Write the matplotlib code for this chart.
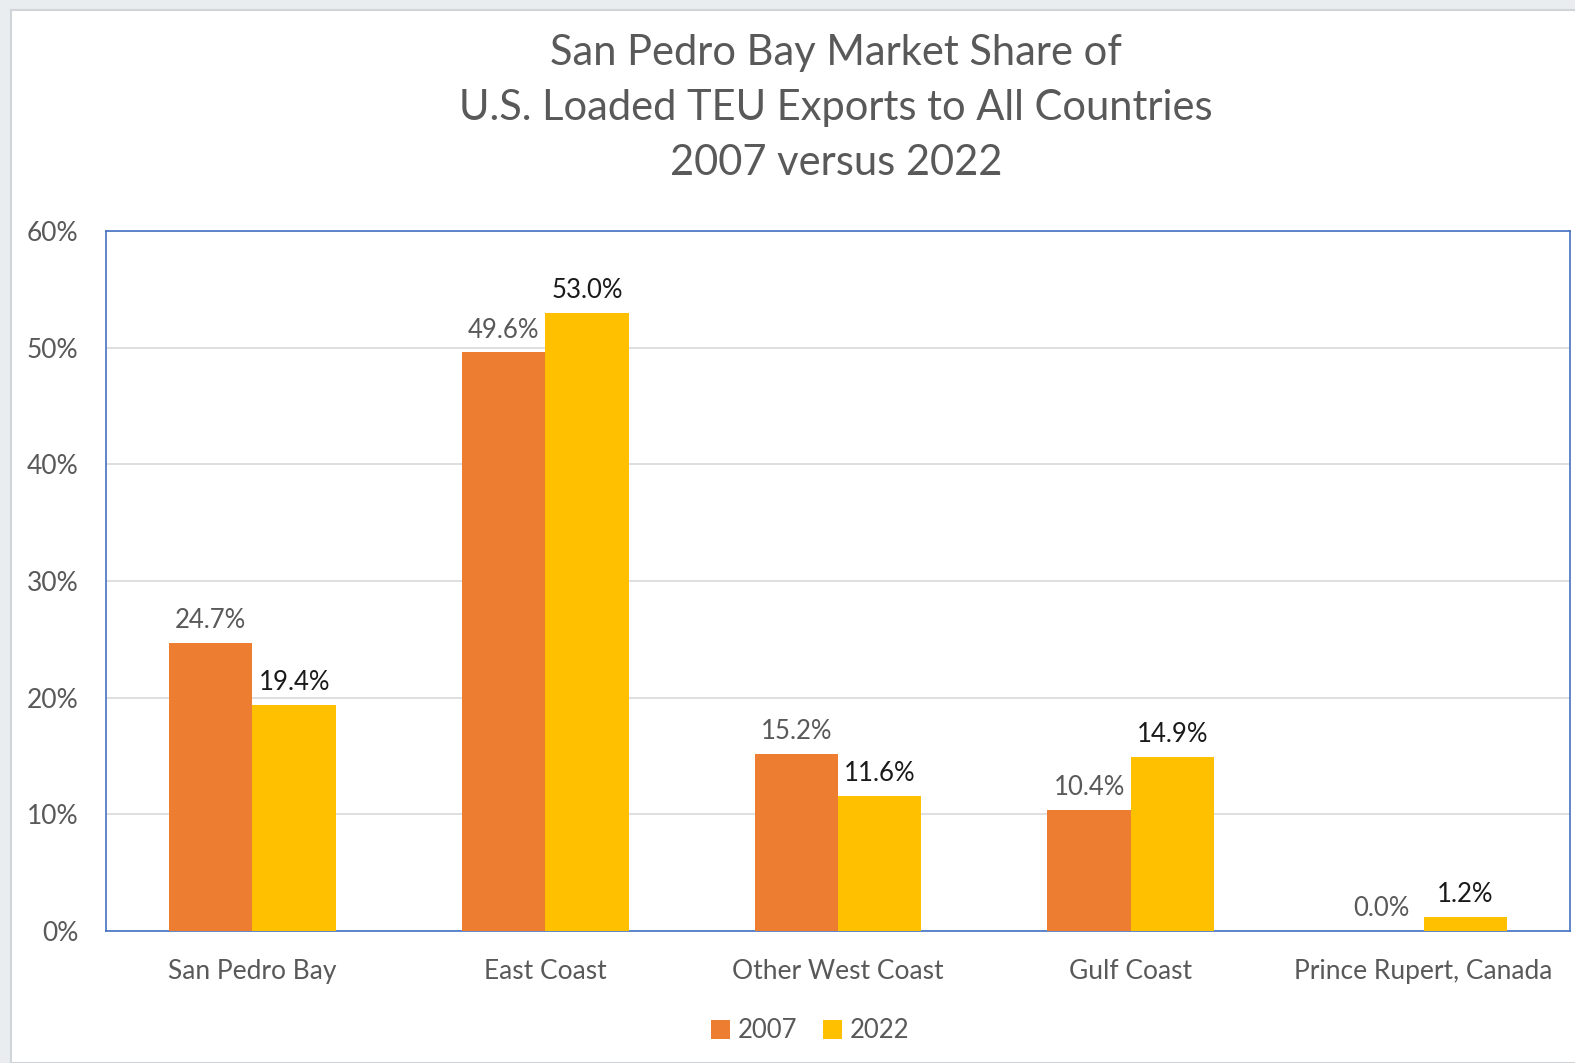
import numpy as np
import matplotlib.pyplot as plt
from matplotlib.patches import Rectangle

plt.rcParams["font.family"] = ["Lato", "DejaVu Sans"]

# ------------------------------------------------------------
# DATA
# ------------------------------------------------------------
categories = ["San Pedro Bay", "East Coast", "Other West Coast",
              "Gulf Coast", "Prince Rupert, Canada"]
share_2007 = [24.7, 49.6, 15.2, 10.4, 0.0]
share_2022 = [19.4, 53.0, 11.6, 14.9, 1.2]
series_names = ["2007", "2022"]
yticks = [0, 10, 20, 30, 40, 50, 60]

# ------------------------------------------------------------
# FIGURE
# ------------------------------------------------------------
fig = plt.figure(figsize=(15.75, 10.63), dpi=100)
fig.patch.set_facecolor("#e9edf0")
fig.patches.append(Rectangle((11 / 1575, 0), 1, 1 - 10 / 1063,
                             transform=fig.transFigure, facecolor="white",
                             edgecolor="#d0d4d8", linewidth=1.5, zorder=-10))

ax = fig.add_axes([106 / 1575, 1 - 931 / 1063,
                   (1570 - 106) / 1575, (931 - 231) / 1063])
ax.set_facecolor("none")

x = np.arange(len(categories))
w = 0.285
b1 = ax.bar(x - w / 2, share_2007, w, color="#ED7D31", label=series_names[0], zorder=3)
b2 = ax.bar(x + w / 2, share_2022, w, color="#FFC000", label=series_names[1], zorder=3)

for rect, v in zip(b1, share_2007):
    ax.annotate(f"{v:.1f}%", (rect.get_x() + rect.get_width() / 2, v),
                xytext=(0, 7), textcoords="offset points",
                ha="center", va="bottom", fontsize=18.5, color="#595959")
for rect, v in zip(b2, share_2022):
    ax.annotate(f"{v:.1f}%", (rect.get_x() + rect.get_width() / 2, v),
                xytext=(0, 7), textcoords="offset points",
                ha="center", va="bottom", fontsize=18.5, color="#1a1a1a")

ax.set_xlim(-0.5, len(categories) - 0.5)
ax.set_ylim(0, 60)
ax.set_yticks(yticks)
ax.set_yticklabels([f"{t}%" for t in yticks])
ax.set_xticks(x)
ax.set_xticklabels(categories)
ax.tick_params(axis="both", length=0, labelsize=19, labelcolor="#595959")
ax.tick_params(axis="y", pad=20)
ax.tick_params(axis="x", pad=20)
ax.grid(axis="y", color="#d9d9d9", linewidth=1.2, zorder=0)

for s in ax.spines.values():
    s.set_color("#4472C4")
    s.set_linewidth(1.2)

fig.text(836 / 1575, 1 - 34 / 1063,
         "San Pedro Bay Market Share of\nU.S. Loaded TEU Exports to All Countries\n2007 versus 2022",
         ha="center", va="top", fontsize=30, color="#595959", linespacing=1.55)

fig.legend(handles=[b1, b2], loc="center", bbox_to_anchor=(810 / 1575, 1 - 1031 / 1063),
           ncol=2, frameon=False, fontsize=18.5, handlelength=0.75, handleheight=0.75,
           handletextpad=0.3, columnspacing=1.0, labelcolor="#595959")

fig.savefig("out.png", dpi=100)
